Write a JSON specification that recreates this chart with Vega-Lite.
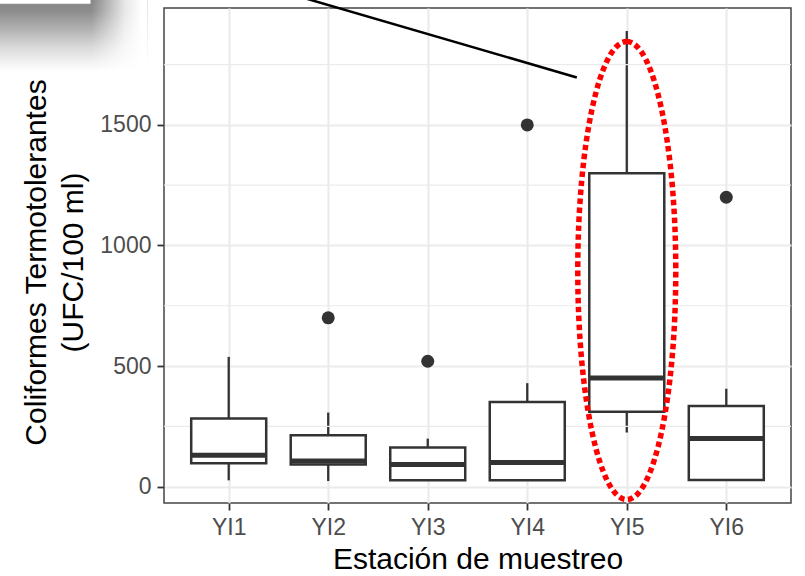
{
  "$schema": "https://vega.github.io/schema/vega-lite/v6.json",
  "width": 627,
  "height": 495,
  "autosize": {"type": "none"},
  "padding": {"left": 164, "top": 8, "right": 14, "bottom": 73},
  "background": "white",
  "config": {
    "font": "Liberation Sans",
    "view": {"stroke": "#444444", "strokeWidth": 1.5}
  },
  "datasets": {
    "boxes": [
      {"st": "YI1", "pos": 1, "lo": 26, "q1": 97, "med": 130, "q3": 282, "hi": 538},
      {"st": "YI2", "pos": 2, "lo": 23, "q1": 92, "med": 106, "q3": 213, "hi": 307},
      {"st": "YI3", "pos": 3, "lo": 26, "q1": 26, "med": 92, "q3": 162, "hi": 199},
      {"st": "YI4", "pos": 4, "lo": 26, "q1": 26, "med": 100, "q3": 351, "hi": 429},
      {"st": "YI5", "pos": 5, "lo": 224, "q1": 310, "med": 450, "q3": 1300, "hi": 1890},
      {"st": "YI6", "pos": 6, "lo": 27, "q1": 27, "med": 200, "q3": 334, "hi": 406}
    ],
    "outliers": [
      {"st": "YI2", "pos": 2, "v": 700},
      {"st": "YI3", "pos": 3, "v": 520},
      {"st": "YI4", "pos": 4, "v": 1500},
      {"st": "YI6", "pos": 6, "v": 1200}
    ],
    "minor": [{"v": 250}, {"v": 750}, {"v": 1250}, {"v": 1750}],
    "arrow": [{"ax": 1.62, "ay": 2043}, {"ax": 4.498, "ay": 1697}],
    "ellipse": [{"ex": 5, "ey": 896}],
    "shadow": [{"xa": -1.4, "xb": 0.182, "ya": 2019, "yb": 1721}],
    "shadowfade": [{"xa": -0.381, "xb": 0.182, "ya": 2019, "yb": 1721}],
    "callout": [{"xa": -1.4, "xb": -0.381, "ya": 2150, "yb": 1999}]
  },
  "layer": [
    {
      "data": {"name": "boxes"},
      "mark": {"type": "rule", "color": "#333333", "strokeWidth": 2.3},
      "encoding": {
        "x": {
          "field": "pos", "type": "quantitative",
          "scale": {"domain": [0.4, 6.6], "nice": false, "zero": false},
          "axis": {
            "values": [1, 2, 3, 4, 5, 6],
            "labelExpr": "'YI' + datum.value",
            "labelFontSize": 23, "labelColor": "#4d4d4d", "labelPadding": 6, "labelFlush": false,
            "tickColor": "#333333", "tickWidth": 1.8, "tickSize": 7,
            "domain": false, "grid": true, "gridColor": "#ebebeb", "gridWidth": 2.2,
            "title": "Estación de muestreo", "titleFontSize": 30, "titleColor": "#000000",
            "titleFontWeight": "normal", "titleBaseline": "alphabetic", "titleY": 65
          }
        },
        "y": {
          "field": "lo", "type": "quantitative",
          "scale": {"domain": [-68, 1985], "nice": false, "zero": false},
          "axis": {
            "values": [0, 500, 1000, 1500],
            "format": "d",
            "labelFontSize": 23, "labelColor": "#4d4d4d", "labelPadding": 6,
            "tickColor": "#333333", "tickWidth": 1.8, "tickSize": 7,
            "domain": false, "grid": true, "gridColor": "#ebebeb", "gridWidth": 2.2,
            "title": ["Coliformes Termotolerantes", "\u00a0\u00a0\u00a0\u00a0\u00a0\u00a0\u00a0\u00a0\u00a0(UFC/100 ml)"],
            "titleFontSize": 30, "titleColor": "#000000", "titleFontWeight": "normal",
            "titleAngle": 270, "titleAlign": "center", "titleBaseline": "alphabetic",
            "titleX": -119, "titleY": 254, "titleLineHeight": 37
          }
        },
        "y2": {"field": "hi"}
      }
    },
    {
      "data": {"name": "minor"},
      "mark": {"type": "rule", "color": "#ebebeb", "strokeWidth": 1.2},
      "encoding": {
        "y": {"field": "v", "type": "quantitative", "scale": {"domain": [-68, 1985], "nice": false, "zero": false}}
      }
    },
    {
      "data": {"name": "shadow"},
      "mark": {
        "type": "rect", "clip": false,
        "fill": {
          "gradient": "linear", "x1": 0, "y1": 0, "x2": 0, "y2": 1,
          "stops": [
            {"offset": 0, "color": "#858585"},
            {"offset": 0.15, "color": "#8c8c8c"},
            {"offset": 0.4, "color": "#b0b0b0"},
            {"offset": 0.65, "color": "#d8d8d8"},
            {"offset": 0.85, "color": "#f0f0f0"},
            {"offset": 1, "color": "#ffffff"}
          ]
        }
      },
      "encoding": {
        "x": {"field": "xa", "type": "quantitative", "scale": {"domain": [0.4, 6.6], "nice": false, "zero": false}},
        "x2": {"field": "xb"},
        "y": {"field": "ya", "type": "quantitative", "scale": {"domain": [-68, 1985], "nice": false, "zero": false}},
        "y2": {"field": "yb"}
      }
    },
    {
      "data": {"name": "shadowfade"},
      "mark": {
        "type": "rect", "clip": false,
        "fill": {
          "gradient": "linear", "x1": 0, "y1": 0, "x2": 1, "y2": 0,
          "stops": [
            {"offset": 0, "color": "rgba(255,255,255,0)"},
            {"offset": 0.6, "color": "rgba(255,255,255,0.8)"},
            {"offset": 0.9, "color": "rgba(255,255,255,1)"},
            {"offset": 1, "color": "rgba(255,255,255,1)"}
          ]
        }
      },
      "encoding": {
        "x": {"field": "xa", "type": "quantitative", "scale": {"domain": [0.4, 6.6], "nice": false, "zero": false}},
        "x2": {"field": "xb"},
        "y": {"field": "ya", "type": "quantitative", "scale": {"domain": [-68, 1985], "nice": false, "zero": false}},
        "y2": {"field": "yb"}
      }
    },
    {
      "data": {"name": "callout"},
      "mark": {"type": "rect", "clip": false, "fill": "#ffffff", "stroke": "#8a8a8a", "strokeWidth": 1.5},
      "encoding": {
        "x": {"field": "xa", "type": "quantitative", "scale": {"domain": [0.4, 6.6], "nice": false, "zero": false}},
        "x2": {"field": "xb"},
        "y": {"field": "ya", "type": "quantitative", "scale": {"domain": [-68, 1985], "nice": false, "zero": false}},
        "y2": {"field": "yb"}
      }
    },
    {
      "data": {"name": "boxes"},
      "mark": {"type": "bar", "width": 75, "fill": "#ffffff", "stroke": "#333333", "strokeWidth": 2.5},
      "encoding": {
        "x": {"field": "pos", "type": "quantitative", "scale": {"domain": [0.4, 6.6], "nice": false, "zero": false}},
        "y": {"field": "q1", "type": "quantitative", "scale": {"domain": [-68, 1985], "nice": false, "zero": false}},
        "y2": {"field": "q3"}
      }
    },
    {
      "data": {"name": "boxes"},
      "mark": {"type": "tick", "orient": "horizontal", "size": 75, "thickness": 5, "color": "#333333", "opacity": 1},
      "encoding": {
        "x": {"field": "pos", "type": "quantitative", "scale": {"domain": [0.4, 6.6], "nice": false, "zero": false}},
        "y": {"field": "med", "type": "quantitative", "scale": {"domain": [-68, 1985], "nice": false, "zero": false}}
      }
    },
    {
      "data": {"name": "outliers"},
      "mark": {"type": "circle", "size": 169, "color": "#333333", "opacity": 1},
      "encoding": {
        "x": {"field": "pos", "type": "quantitative", "scale": {"domain": [0.4, 6.6], "nice": false, "zero": false}},
        "y": {"field": "v", "type": "quantitative", "scale": {"domain": [-68, 1985], "nice": false, "zero": false}}
      }
    },
    {
      "data": {"name": "arrow"},
      "mark": {"type": "line", "color": "#000000", "strokeWidth": 2.5, "clip": false},
      "encoding": {
        "x": {"field": "ax", "type": "quantitative", "scale": {"domain": [0.4, 6.6], "nice": false, "zero": false}},
        "y": {"field": "ay", "type": "quantitative", "scale": {"domain": [-68, 1985], "nice": false, "zero": false}}
      }
    },
    {
      "data": {"name": "ellipse"},
      "mark": {
        "type": "point", "clip": false, "filled": false, "opacity": 1,
        "shape": "M 0 -1 A 0.214 1 0 1 1 0 1 A 0.214 1 0 1 1 0 -1 Z",
        "size": 209764, "stroke": "#ff0000", "strokeWidth": 5.5, "strokeDash": [5.5, 3.5]
      },
      "encoding": {
        "x": {"field": "ex", "type": "quantitative", "scale": {"domain": [0.4, 6.6], "nice": false, "zero": false}},
        "y": {"field": "ey", "type": "quantitative", "scale": {"domain": [-68, 1985], "nice": false, "zero": false}}
      }
    }
  ]
}
